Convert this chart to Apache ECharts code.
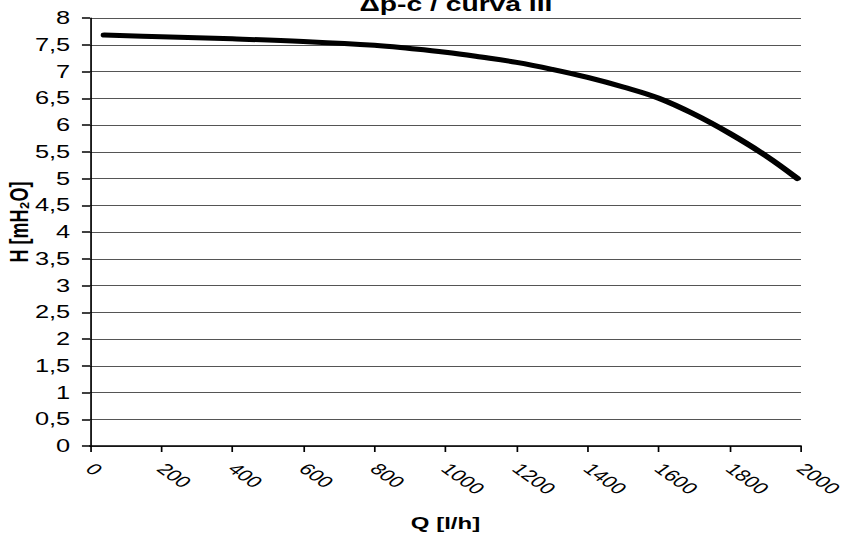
<!DOCTYPE html>
<html>
<head>
<meta charset="utf-8">
<script src="https://cdn.jsdelivr.net/npm/echarts@6/dist/echarts.min.js"></script>
<style>
  html, body { margin: 0; padding: 0; background: #fff; overflow: hidden; }
  /* chart is laid out narrower and widened to fill the page */
  #chart { width: 600px; height: 537px; transform: scaleX(1.41167); transform-origin: 0 0; }
</style>
</head>
<body>
<div id="chart"></div>
<script>
// Pump curve: flow rate Q [l/h] vs. head H [mH2O]
const flowQ = [40, 200, 400, 600, 800, 900, 1000, 1100, 1200, 1300, 1400, 1500, 1600, 1700, 1800, 1900, 1990];
const headH = [7.68, 7.65, 7.61, 7.56, 7.49, 7.43, 7.36, 7.27, 7.17, 7.04, 6.89, 6.71, 6.50, 6.20, 5.84, 5.43, 5.0];

const chartTitle = 'Δp-c / curva III';
const xName = 'Q [l/h]';
const yName = 'H [mH₂O]';

const font = 'Liberation Sans, Arial, sans-serif';
const chart = echarts.init(document.getElementById('chart'), null, { renderer: 'svg' });

chart.setOption({
  animation: false,
  backgroundColor: '#fff',
  title: {
    text: chartTitle,
    left: 318,
    textAlign: 'center',
    top: -11,
    textStyle: { fontFamily: font, fontSize: 20, fontWeight: 'bold', color: '#000' }
  },
  grid: { left: 63.75, right: 32.6, top: 18, bottom: 91, containLabel: false, outerBoundsMode: 'none' },
  xAxis: {
    type: 'value',
    min: 0, max: 2000, interval: 200,
    name: xName,
    nameLocation: 'middle',
    nameGap: 68,
    nameMoveOverlap: false,
    nameTextStyle: { fontFamily: font, fontSize: 17, fontWeight: 'bold', color: '#000' },
    axisLine: { lineStyle: { color: '#000', width: 1.5 } },
    axisTick: { show: true, length: 6, lineStyle: { color: '#000', width: 1.2 } },
    axisLabel: {
      rotate: -45, fontFamily: font, fontSize: 16, color: '#000', margin: 20,
      hideOverlap: false,
      formatter: v => String(v)
    },
    splitLine: { show: false }
  },
  yAxis: {
    type: 'value',
    min: 0, max: 8, interval: 0.5,
    name: yName,
    nameLocation: 'middle',
    nameGap: 41,
    nameRotate: 90,
    nameMoveOverlap: false,
    nameTextStyle: {
      fontFamily: font, fontSize: 18, fontWeight: 'bold', color: '#000',
      padding: [0, 0, 0, 20]
    },
    axisLine: { show: true, lineStyle: { color: '#000', width: 1.2 } },
    axisTick: { show: true, length: 5.7, lineStyle: { color: '#000', width: 1.5 } },
    axisLabel: {
      fontFamily: font, fontSize: 18, color: '#000', margin: 14,
      formatter: v => String(v).replace('.', ',')
    },
    splitLine: { show: true, lineStyle: { color: '#555', width: 1.2 } }
  },
  series: [{
    type: 'line',
    data: flowQ.map((q, i) => [q, headH[i]]),
    smooth: 0.4,
    showSymbol: false,
    lineStyle: { color: '#000', width: 5, cap: 'round' }
  }]
});
</script>
</body>
</html>
